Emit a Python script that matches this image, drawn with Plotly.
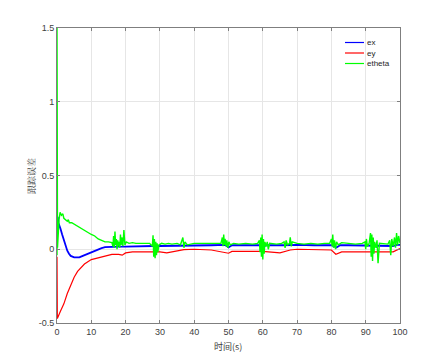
import plotly.graph_objects as go

# ---- data ----
t_ex = [0, 0.2, 0.4, 0.7, 1.0, 1.5, 2.0, 2.5, 3, 3.5, 4, 5, 5.7, 6.5, 7, 8, 9, 10, 11, 12, 13, 14, 16, 18, 20,
        22, 25, 28, 30, 33, 35, 37, 40, 45, 49, 50, 51, 55, 59, 60, 61, 66, 68, 70, 75, 80, 81.5, 82.5,
        85, 90, 92, 95, 98, 99, 100]
ex = [0.13, 0.22, 0.18, 0.15, 0.14, 0.10, 0.06, 0.02, -0.01, -0.03, -0.045, -0.055, -0.057, -0.055, -0.05,
      -0.04, -0.03, -0.018, -0.008, 0.0, 0.008, 0.014, 0.018, 0.018, 0.018, 0.02, 0.02, 0.022, 0.022,
      0.022, 0.022, 0.025, 0.027, 0.027, 0.03, 0.012, 0.027, 0.027, 0.027, 0.015, 0.027, 0.027, 0.03,
      0.03, 0.027, 0.027, 0.012, 0.027, 0.027, 0.027, 0.022, 0.027, 0.022, 0.03, 0.03]

t_ey = [0, 0.1, 1, 2, 3, 4, 5, 6, 8, 10, 13, 16, 18, 19, 20, 22, 30, 32, 37, 40, 45, 50, 51, 60, 65,
        68, 70, 80, 81.3, 83, 90, 95, 98, 100]
ey = [-0.05, -0.47, -0.42, -0.37, -0.30, -0.24, -0.19, -0.15, -0.10, -0.07, -0.05, -0.035, -0.035,
      -0.04, -0.025, -0.018, -0.018, -0.025, -0.002, 0.0, -0.005, -0.027, -0.015, -0.015, -0.025,
      -0.005, 0.0, -0.005, -0.034, -0.018, -0.018, -0.018, -0.018, 0.005]

t_eth = [0, 0, 0.15, 0.6, 0.9, 1.3, 1.7, 2.0, 2.5, 3.0, 3.3, 3.6, 4.3, 5, 6, 7, 8, 9, 10, 11, 12, 13,
         14, 15, 16, 16.3, 16.5, 16.7, 16.9, 17.1, 17.3, 17.5, 17.7, 17.9, 18.1, 18.3, 18.5, 18.7,
         19.0, 19.2, 19.5, 19.8, 20.2, 21, 22, 23, 24, 25, 26, 27, 27.8, 28.0, 28.2, 28.4, 28.6, 28.8,
         29.0, 29.2, 29.4, 29.7, 30.5, 31.5, 32.5, 33.5, 35, 36, 36.7, 37.0, 37.3, 38, 40, 42, 44, 46,
         47.8, 48.2, 48.4, 48.6, 48.8, 49.0, 49.3, 49.5, 49.8, 50.1, 50.5, 51.5, 53, 55, 57, 58.5,
         59.0, 59.2, 59.4, 59.6, 59.8, 60.0, 60.2, 60.4, 60.6, 61.0, 61.3, 61.6, 62, 64, 65.5, 66.2,
         66.5, 66.8, 67.2, 67.8, 68.0, 68.3, 68.6, 70, 72, 74, 76, 78, 79.5, 80.0, 80.2, 80.4, 80.6,
         80.9, 81.2, 81.5, 82, 83, 85, 87, 89, 89.8, 90.0, 90.2, 90.5, 91, 91.4, 91.6, 91.8, 92.0,
         92.2, 92.4, 92.6, 93.0, 93.3, 93.6, 94, 95.5, 96.5, 97, 97.3, 97.6, 98, 98.4, 98.7, 99.0,
         99.3, 99.6, 100]
etheta = [-0.04, 1.5, 0.01, 0.2, 0.25, 0.23, 0.24, 0.21, 0.2, 0.19, 0.2, 0.18, 0.18, 0.17, 0.155,
          0.14, 0.13, 0.11, 0.10, 0.09, 0.07, 0.06, 0.05, 0.05, 0.045, 0.02, 0.09, 0.01, 0.12, 0.03,
          0.07, 0.0, 0.06, 0.02, 0.05, 0.01, 0.10, 0.03, 0.08, 0.02, 0.13, 0.03, 0.05, 0.04, 0.045,
          0.04, 0.04, 0.04, 0.035, 0.04, 0.02, 0.095, -0.05, 0.07, -0.06, 0.05, -0.04, 0.04, -0.02,
          0.03, 0.04, 0.035, 0.04, 0.035, 0.04, 0.03, 0.08, 0.01, 0.05, 0.03, 0.04, 0.04, 0.035, 0.04,
          0.04, 0.08, 0.02, 0.10, 0.03, 0.07, 0.02, 0.06, 0.01, 0.05, 0.03, 0.04, 0.035, 0.04, 0.035,
          0.04, 0.06, -0.02, 0.08, -0.05, 0.10, -0.07, 0.07, -0.03, 0.05, 0.02, 0.05, 0.0, 0.04, 0.035,
          0.04, 0.05, 0.01, 0.06, 0.03, 0.04, 0.08, 0.02, 0.05, 0.04, 0.035, 0.04, 0.035, 0.04, 0.04,
          0.07, 0.02, 0.10, 0.01, 0.06, 0.0, 0.05, 0.03, 0.045, 0.04, 0.035, 0.04, 0.05, 0.0, 0.07,
          0.02, 0.04, 0.11, -0.05, 0.10, -0.08, 0.08, -0.03, 0.05, 0.01, 0.06, -0.095, 0.04, 0.04,
          0.035, 0.06, -0.04, 0.07, 0.02, 0.08, 0.01, 0.11, 0.03, 0.09, 0.04]

series_names = ["ex", "ey", "etheta"]
series_colors = ["#0000FF", "#FF0000", "#00FF00"]
x_ticks = [0, 10, 20, 30, 40, 50, 60, 70, 80, 90, 100]
y_ticks = [-0.5, 0, 0.5, 1, 1.5]
y_tick_labels = ["-0.5", "0", "0.5", "1", "1.5"]
x_title = "时间(s)"
y_title = "跟踪误差"

fig = go.Figure()
fig.add_trace(go.Scatter(x=t_ex, y=ex, mode="lines", name=series_names[0],
                         line=dict(color=series_colors[0], width=1.8)))
fig.add_trace(go.Scatter(x=t_ey, y=ey, mode="lines", name=series_names[1],
                         line=dict(color=series_colors[1], width=1.2)))
fig.add_trace(go.Scatter(x=t_eth, y=etheta, mode="lines", name=series_names[2],
                         line=dict(color=series_colors[2], width=1.4)))

axis_common = dict(showline=True, linecolor="#7f7f7f", linewidth=1, mirror="ticks",
                   ticks="inside", ticklen=3, tickcolor="#7f7f7f",
                   showgrid=True, gridcolor="#e6e6e6", gridwidth=1, zeroline=False,
                   tickfont=dict(family="Liberation Sans, Arial", size=9, color="#404040"))

W, H = 441, 363
L, R, T, B = 57, 41, 28, 40
pw, ph = W - L - R, H - T - B

def px_x(p):
    return (p - L) / pw

def px_y(p):
    return (H - B - p) / ph

shapes = []
annotations = []
leg_y = [42.5, 53, 63.5]
for name, col, yy in zip(series_names, series_colors, leg_y):
    shapes.append(dict(type="line", xref="paper", yref="paper",
                       x0=px_x(345), x1=px_x(364), y0=px_y(yy), y1=px_y(yy),
                       line=dict(color=col, width=1.2)))
    annotations.append(dict(text=name, xref="paper", yref="paper", x=px_x(365), y=px_y(yy),
                            xanchor="left", yanchor="middle", showarrow=False,
                            font=dict(family="Liberation Sans, Arial", size=8, color="#262626")))

annotations.append(dict(text=x_title, xref="paper", yref="paper", x=px_x(228), y=px_y(346),
                        xanchor="center", yanchor="middle", showarrow=False,
                        font=dict(family="Noto Sans CJK SC", size=9, color="#404040")))
annotations.append(dict(text=y_title, xref="paper", yref="paper", x=px_x(31), y=px_y(176),
                        xanchor="center", yanchor="middle", showarrow=False, textangle=-90,
                        font=dict(family="Noto Serif CJK SC, Noto Sans CJK SC", size=9, color="#404040")))

fig.update_layout(
    width=W, height=H,
    margin=dict(l=L, r=R, t=T, b=B),
    paper_bgcolor="white", plot_bgcolor="white",
    xaxis=dict(range=[0, 100], tickvals=x_ticks, **axis_common),
    yaxis=dict(range=[-0.5, 1.5], tickvals=y_ticks, ticktext=y_tick_labels, **axis_common),
    showlegend=False,
    shapes=shapes,
    annotations=annotations,
)

fig.write_html("out.html", config={"displayModeBar": False},
               post_script="document.body.style.margin='0';")
